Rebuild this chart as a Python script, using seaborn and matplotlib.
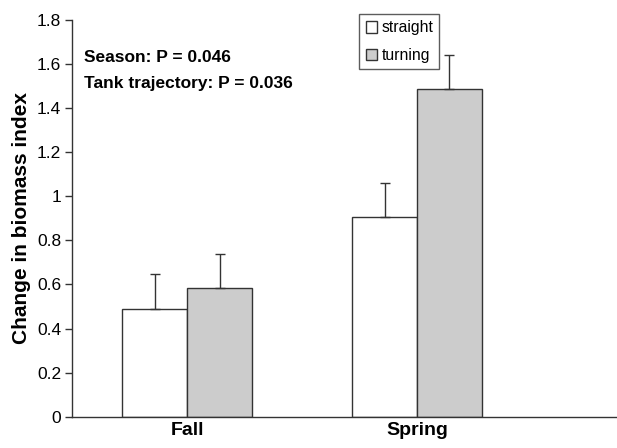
import numpy as np
import pandas as pd
import matplotlib
matplotlib.use("Agg")
import matplotlib.pyplot as plt
import seaborn as sns

# values
seasons = ["Fall", "Spring"]
trajectories = ["straight", "turning"]
straight_mean = [0.49, 0.907]
turning_mean = [0.585, 1.487]
straight_se = [0.158, 0.155]
turning_se = [0.153, 0.153]
y_ticks = [0, 0.2, 0.4, 0.6, 0.8, 1, 1.2, 1.4, 1.6, 1.8]
y_tick_labels = ["0", "0.2", "0.4", "0.6", "0.8", "1", "1.2", "1.4", "1.6", "1.8"]

df = pd.DataFrame({
    "season": seasons * 2,
    "trajectory": [trajectories[0]] * 2 + [trajectories[1]] * 2,
    "mean": straight_mean + turning_mean,
    "se": straight_se + turning_se,
})

sns.set_style("ticks")
plt.rcParams["font.family"] = ["Liberation Sans", "DejaVu Sans"]
plt.rcParams.update({"text.color": "black", "axes.labelcolor": "black",
                     "xtick.color": "black", "ytick.color": "black"})

fig, ax = plt.subplots(figsize=(6.17, 4.48), dpi=100)
sns.barplot(data=df, x="season", y="mean", hue="trajectory",
            hue_order=trajectories, order=seasons,
            palette={"straight": "white", "turning": "#cccccc"},
            width=0.565, gap=0, edgecolor="#333333", linewidth=1.0,
            errorbar=None, ax=ax)

# upward-only error bars, placed at the centre of each bar patch
for bars, (name, grp) in zip(ax.containers, df.groupby("trajectory", sort=False)):
    grp = grp.set_index("season").loc[seasons]
    xs = [b.get_x() + b.get_width() / 2 for b in bars]
    ax.errorbar(xs, grp["mean"], yerr=[np.zeros(len(xs)), grp["se"]],
                fmt="none", ecolor="#333333", elinewidth=1.0,
                capsize=3.5, capthick=1.0)

ax.set_xlim(-0.5, 1.87)
ax.set_ylim(0, 1.8)
ax.set_yticks(y_ticks)
ax.set_yticklabels(y_tick_labels, fontsize=12.5)
ax.set_xticklabels(seasons, fontsize=14, fontweight="bold")
ax.tick_params(axis="x", length=0, pad=4)
ax.tick_params(axis="y", length=5, width=1, color="#333333", direction="out", pad=3)
ax.set_xlabel("")
ax.set_ylabel("Change in biomass index", fontsize=15, fontweight="bold", labelpad=4)
for s in ["top", "right"]:
    ax.spines[s].set_visible(False)
for s in ["left", "bottom"]:
    ax.spines[s].set_color("#333333")
    ax.spines[s].set_linewidth(1.0)

ax.text(0.022, 0.905, "Season: P = 0.046", transform=ax.transAxes,
        fontsize=12.5, fontweight="bold", va="center")
ax.text(0.022, 0.84, "Tank trajectory: P = 0.036", transform=ax.transAxes,
        fontsize=12.5, fontweight="bold", va="center")

leg = ax.legend(loc="upper left", bbox_to_anchor=(0.527, 1.015), fontsize=11.3,
                frameon=True, fancybox=False, edgecolor="#333333",
                handlelength=0.75, handleheight=0.75, handletextpad=0.25,
                borderpad=0.4, labelspacing=0.8, borderaxespad=0)
leg.get_frame().set_linewidth(1.0)

fig.subplots_adjust(left=0.117, right=1.0, bottom=0.07, top=0.955)
fig.savefig("out.png", dpi=100)
